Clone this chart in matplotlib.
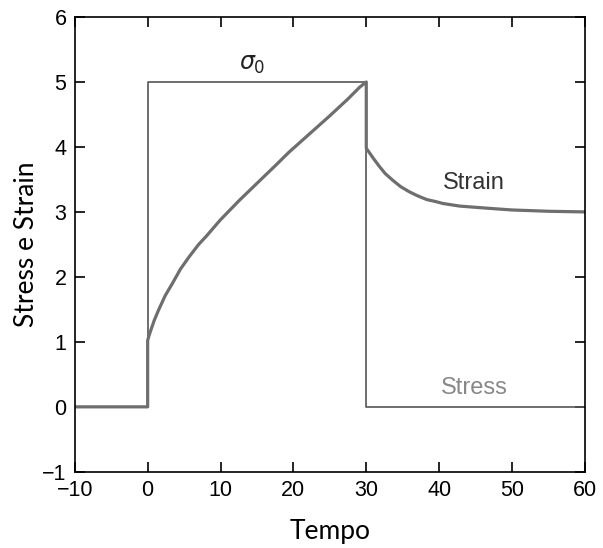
import numpy as np
import matplotlib.pyplot as plt

# Stress: impulso quadrato da 0 a 30
tempo_stress = [-10, 0, 0, 30, 30, 60]
stress = [0, 0, 5, 5, 0, 0]

# Strain (creep + recupero)
tempo_strain = [-10, 0, 0, 0.2, 0.5, 0.9, 1.5, 2.4, 3.4, 4.5, 5.7, 7.0, 8.0,
                10.0, 12.6, 15.0, 17.5, 19.4, 22.0, 25.0, 27.5, 29.1, 30.0,
                30.0, 30.5, 31.0, 31.8, 32.6, 33.6, 34.7, 35.9, 37.0, 38.3,
                39.5, 40.5, 42.8, 45.1, 47.5, 50.0, 55.0, 60.0]
strain = [0, 0, 1.02, 1.1, 1.2, 1.33, 1.49, 1.71, 1.9, 2.12, 2.31, 2.5, 2.62,
          2.88, 3.18, 3.44, 3.71, 3.92, 4.18, 4.48, 4.74, 4.92, 5.0,
          3.98, 3.9, 3.82, 3.70, 3.59, 3.49, 3.39, 3.31, 3.25, 3.19,
          3.16, 3.13, 3.09, 3.07, 3.05, 3.03, 3.01, 3.0]

fig = plt.figure(figsize=(6.03, 5.48), dpi=100)
ax = fig.add_axes([0.124, 0.139, 0.846, 0.830])

ax.plot(tempo_stress, stress, color='#555555', linewidth=1.2)
ax.plot(tempo_strain, strain, color='#6e6e6e', linewidth=2.3)

ax.text(14.3, 5.27, r'$\sigma_0$', fontsize=17, ha='center', va='center', color='#222222')
ax.text(44.8, 3.45, 'Strain', fontsize=17, ha='center', va='center',
        color='#333333', family='Liberation Sans')
ax.text(44.8, 0.29, 'Stress', fontsize=17, ha='center', va='center',
        color='#888888', family='Liberation Sans')

ax.set_xlim(-10, 60)
ax.set_ylim(-1, 6)
ax.set_xticks(np.arange(-10, 61, 10))
ax.set_yticks(np.arange(-1, 7, 1))
ax.tick_params(direction='in', length=7, width=1.2, top=True, right=True,
               labelsize=15.5, pad=6)
for lab in ax.get_xticklabels() + ax.get_yticklabels():
    lab.set_family('Liberation Sans')
for s in ax.spines.values():
    s.set_linewidth(1.2)

ax.set_xlabel('Tempo', fontsize=19, family='Lato', labelpad=13)
ax.set_ylabel('Stress e Strain', fontsize=19, family='Lato', labelpad=2)

plt.savefig('out.png', dpi=100)
